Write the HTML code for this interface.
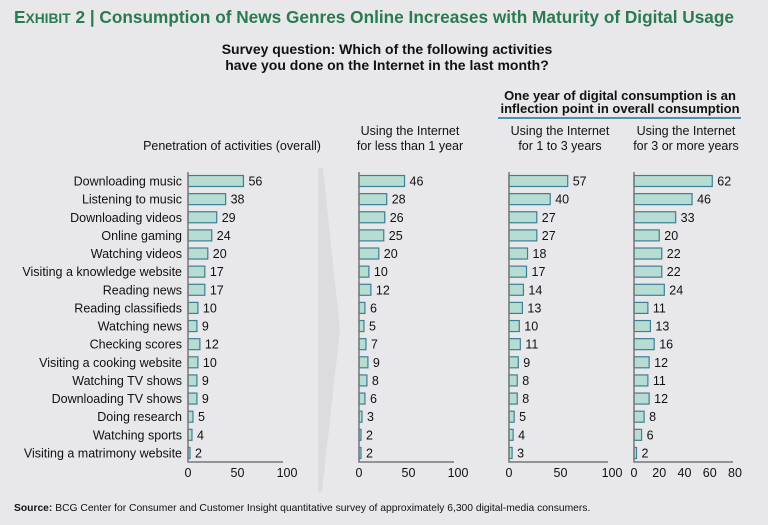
<!DOCTYPE html>
<html><head><meta charset="utf-8"><style>
body{margin:0;background:#e8e8ea;}
svg{display:block;font-family:"Liberation Sans",sans-serif;}
</style></head><body>
<svg id="c" width="768" height="525" viewBox="0 0 768 525">
<rect width="768" height="525" fill="#e8e8ea"/>
<text x="14" y="23" font-size="17.5" font-weight="bold" fill="#2a7a52" textLength="720" lengthAdjust="spacingAndGlyphs">E<tspan font-size="14">XHIBIT</tspan> 2 | Consumption of News Genres Online Increases with Maturity of Digital Usage</text>
<text x="387" y="54" font-size="14" font-weight="bold" text-anchor="middle" fill="#111">Survey question: Which of the following activities</text>
<text x="387" y="70" font-size="14" font-weight="bold" text-anchor="middle" fill="#111">have you done on the Internet in the last month?</text>
<text x="620" y="100" font-size="13" font-weight="bold" text-anchor="middle" fill="#111">One year of digital consumption is an</text>
<text x="620" y="113" font-size="13" font-weight="bold" text-anchor="middle" fill="#111">inflection point in overall consumption</text>
<line x1="498" y1="118" x2="741" y2="118" stroke="#4f8fb0" stroke-width="2"/>
<polygon points="318,168 323,168 340,330 322,492 318,492" fill="#dcdcdf"/>
<text x="14" y="511" font-size="10.3" fill="#111"><tspan font-weight="bold">Source:</tspan> BCG Center for Consumer and Customer Insight quantitative survey of approximately 6,300 digital-media consumers.</text>
<g id="g"></g>
</svg>
<script>
const categories=["Downloading music","Listening to music","Downloading videos","Online gaming","Watching videos","Visiting a knowledge website","Reading news","Reading classifieds","Watching news","Checking scores","Visiting a cooking website","Watching TV shows","Downloading TV shows","Doing research","Watching sports","Visiting a matrimony website"];
const overall=[56,38,29,24,20,17,17,10,9,12,10,9,9,5,4,2];
const lessThan1=[46,28,26,25,20,10,12,6,5,7,9,8,6,3,2,2];
const oneTo3=[57,40,27,27,18,17,14,13,10,11,9,8,8,5,4,3];
const threePlus=[62,46,33,20,22,22,24,11,13,16,12,11,12,8,6,2];
const ticks100=[0,50,100];
const ticks80=[0,20,40,60,80];
const panelTitles=[["Penetration of activities (overall)"],["Using the Internet","for less than 1 year"],["Using the Internet","for 1 to 3 years"],["Using the Internet","for 3 or more years"]];
const panels=[
 {data:overall,x0:188,w:99,max:100,ticks:ticks100,tx:232,end:283},
 {data:lessThan1,x0:359,w:99,max:100,ticks:ticks100,tx:410,end:454},
 {data:oneTo3,x0:509,w:103,max:100,ticks:ticks100,tx:560,end:608},
 {data:threePlus,x0:634,w:101,max:80,ticks:ticks80,tx:686,end:733}];
const g=document.getElementById('g');const NS="http://www.w3.org/2000/svg";
function mk(t,a,txt){const e=document.createElementNS(NS,t);for(const k in a)e.setAttribute(k,a[k]);if(txt!==undefined)e.textContent=txt;g.appendChild(e);return e;}
const y0=181,step=18.13,bh=11,base=462;
function yS(i){return y0+i*step;}
categories.forEach((c,i)=>{const e=mk('text',{x:182,y:yS(i)+4.5,'font-size':12.5,'text-anchor':'end',fill:'#111'},c);

});
panels.forEach((p,pi)=>{
 const xS=v=>p.x0+v/p.max*p.w;
 const t=panelTitles[pi];
 t.forEach((l,li)=>{const e=mk('text',{x:p.tx,y:150-(t.length-1-li)*15,'font-size':12.5,'text-anchor':'middle',fill:'#111'},l);
 
 });
 p.data.forEach((v,i)=>{
  const r=mk('rect',{x:xS(0),y:yS(i)-bh/2,width:Math.max(xS(v)-xS(0),1.5),height:bh,fill:'#b7ddd2',stroke:'#3b7f98','stroke-width':1.2});
  
  
  const l=mk('text',{x:xS(v)+5,y:yS(i)+4.5,'font-size':12.5,fill:'#111'},v);
  
  
 });
 const ax=mk('path',{d:`M${p.x0},172 V${base} H${p.end}`,fill:'none',stroke:'#777','stroke-width':1.5});
 
 
 p.ticks.forEach(tv=>{const e=mk('text',{x:xS(tv),y:477,'font-size':12.5,'text-anchor':'middle',fill:'#111'},tv);
 
 });
});
</script>
</body></html>
